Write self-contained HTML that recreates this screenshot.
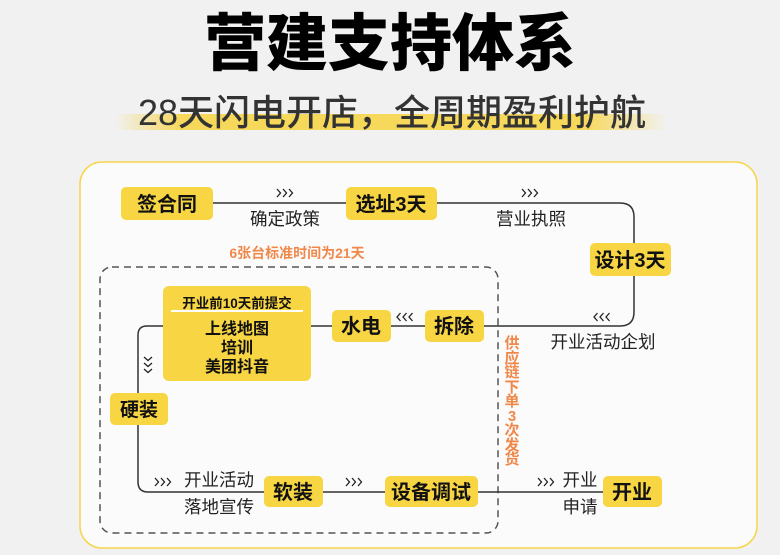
<!DOCTYPE html>
<html><head><meta charset="utf-8"><style>
html,body{margin:0;padding:0;background:#f1f1f1;}
svg{display:block;}
text{font-family:"Liberation Sans","Noto Sans CJK SC",sans-serif;}
</style></head><body>
<svg width="780" height="555" viewBox="0 0 780 555" xmlns="http://www.w3.org/2000/svg">
<defs>
<linearGradient id="hl" x1="0" x2="1" y1="0" y2="0">
<stop offset="0" stop-color="#f7d54a" stop-opacity="0"/>
<stop offset="0.12" stop-color="#f7d54a" stop-opacity="0.9"/>
<stop offset="0.85" stop-color="#f7d54a" stop-opacity="0.9"/>
<stop offset="1" stop-color="#f7d54a" stop-opacity="0"/>
</linearGradient>
<path id="r" d="M0 -4 l3.5 4 l-3.5 4 M6 -4 l3.5 4 l-3.5 4 M12 -4 l3.5 4 l-3.5 4" fill="none" stroke="#222" stroke-width="1.3"/>
<path id="l" d="M3.5 -4 l-3.5 4 l3.5 4 M9.5 -4 l-3.5 4 l3.5 4 M15.5 -4 l-3.5 4 l3.5 4" fill="none" stroke="#222" stroke-width="1.3"/>
</defs>
<rect width="780" height="555" fill="#f1f1f1"/>
<!-- title -->
<text x="390" y="65" text-anchor="middle" font-size="62" font-weight="900" fill="#000">营建支持体系</text>
<rect x="115" y="114" width="552" height="16" fill="url(#hl)"/>
<text x="392" y="125" text-anchor="middle" font-size="36" font-weight="500" fill="#333">28天闪电开店，全周期盈利护航</text>
<!-- panel -->
<rect x="80" y="162" width="677" height="386" rx="22" fill="#fbfbfb" stroke="#f7d54a" stroke-width="1.5"/>
<!-- dashed region -->
<rect x="100" y="267" width="398" height="266" rx="12" fill="none" stroke="#555" stroke-width="1.5" stroke-dasharray="7 5"/>
<text x="297" y="258" text-anchor="middle" font-size="14" font-weight="700" fill="#f0884a">6张台标准时间为21天</text>
<!-- connectors -->
<g fill="none" stroke="#333" stroke-width="1.5">
<path d="M200 203 H620 Q634 203 634 217 V312 Q634 326 620 326 H147 Q138 326 138 335 V482 Q138 492 148 492 H603"/>
</g>
<!-- chevrons -->
<use href="#r" x="277" y="193"/>
<use href="#r" x="522" y="193"/>
<use href="#l" x="397" y="317"/>
<use href="#l" x="594" y="317"/>
<use href="#r" x="155" y="482"/>
<use href="#r" x="346" y="482"/>
<use href="#r" x="538" y="482"/>
<g fill="none" stroke="#222" stroke-width="1.3">
<path d="M144 357 l4 3.5 l4 -3.5 M144 363 l4 3.5 l4 -3.5 M144 369 l4 3.5 l4 -3.5"/>
</g>
<!-- labels -->
<g font-size="17.5" fill="#222">
<text x="285" y="225" text-anchor="middle">确定政策</text>
<text x="531" y="225" text-anchor="middle">营业执照</text>
<text x="603" y="348" text-anchor="middle">开业活动企划</text>
<text x="219" y="486" text-anchor="middle">开业活动</text>
<text x="219" y="513" text-anchor="middle">落地宣传</text>
<text x="580" y="486" text-anchor="middle">开业</text>
<text x="580" y="513" text-anchor="middle">申请</text>
</g>
<!-- vertical orange -->
<g font-size="15" font-weight="700" fill="#f0884a" text-anchor="middle">
<text x="512" y="348">供</text><text x="512" y="363">应</text><text x="512" y="377">链</text>
<text x="512" y="392">下</text><text x="512" y="406">单</text><text x="512" y="421">3</text>
<text x="512" y="435">次</text><text x="512" y="450">发</text><text x="512" y="464">货</text>
</g>
<!-- nodes -->
<g fill="#f7d543">
<rect x="121" y="187" width="92" height="33" rx="5"/>
<rect x="346" y="187" width="91" height="33" rx="5"/>
<rect x="590" y="243" width="81" height="33" rx="5"/>
<rect x="163" y="286" width="148" height="95" rx="6"/>
<rect x="332" y="310" width="59" height="32" rx="5"/>
<rect x="425" y="310" width="59" height="32" rx="5"/>
<rect x="110" y="393" width="58" height="32" rx="5"/>
<rect x="264" y="476" width="59" height="31" rx="5"/>
<rect x="385" y="476" width="93" height="31" rx="5"/>
<rect x="603" y="476" width="59" height="31" rx="5"/>
</g>
<rect x="171" y="310" width="132" height="2" fill="#fff"/>
<g font-weight="700" fill="#111" text-anchor="middle">
<text x="167" y="211" font-size="20">签合同</text>
<text x="391" y="211" font-size="20">选址3天</text>
<text x="630" y="267" font-size="20">设计3天</text>
<text x="237" y="308" font-size="13.5">开业前10天前提交</text>
<text x="237" y="334" font-size="16">上线地图</text>
<text x="237" y="353" font-size="16">培训</text>
<text x="237" y="372" font-size="16">美团抖音</text>
<text x="361" y="333" font-size="20">水电</text>
<text x="454" y="333" font-size="20">拆除</text>
<text x="139" y="416" font-size="19">硬装</text>
<text x="293" y="499" font-size="20">软装</text>
<text x="431" y="499" font-size="20">设备调试</text>
<text x="632" y="499" font-size="20">开业</text>
</g>
</svg>
</body></html>
